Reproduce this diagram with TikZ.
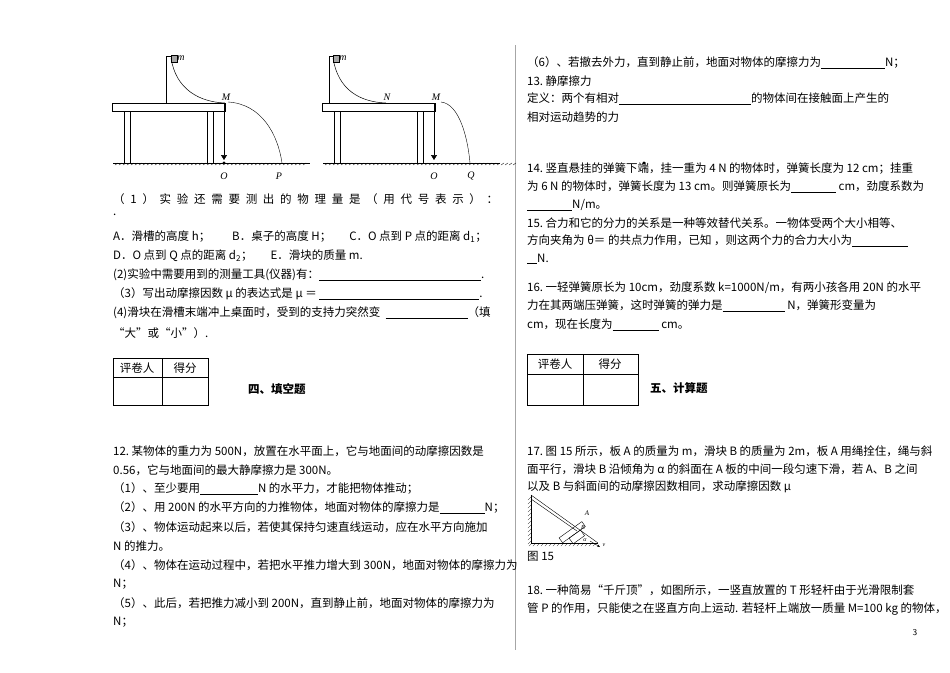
\documentclass[tikz,border=0pt]{standalone}
\usepackage{fontspec}
\setmainfont{Liberation Serif}
\newfontfamily\cjk{Noto Sans CJK SC}
\usetikzlibrary{patterns,arrows.meta}
\begin{document}
\begin{tikzpicture}[x=1pt,y=-1pt,
  tx/.style={anchor=west,inner sep=0pt,font=\cjk\fontsize{11.5}{12}\selectfont},
  bl/.style={draw,line width=0.5pt},
  gr/.style={line width=0.4pt},
  lab/.style={font=\itshape\fontsize{10}{10}\selectfont,inner sep=0pt}]
\useasboundingbox (0,0) rectangle (950,672);
\fill[white] (0,0) rectangle (950,672);
\draw[gray!70,line width=0.6pt] (515,45) -- (515,650);
% ---------- figure 1 ----------
\foreach \dx/\ox/\en/\el in {0/224/282/P,210/434/470/Q}{
 \begin{scope}[xshift=\dx]
  \draw[bl] (112,103) rectangle (225,111);
  \draw[gr] (124,111) -- (124,163) (130,111) -- (130,163) (207,111) -- (207,163) (213,111) -- (213,163);
  \draw[gr] (113,163) -- ({\ifnum\dx=0 310\else 290\fi},163);
  \foreach \h in {115,119,...,306}{\draw[line width=0.3pt] (\h,165) -- (\h+3,163);}
  \draw[line width=0.5pt,-{Triangle[width=6pt,length=5pt]}] (224,104) -- (224,160);
  \fill (\ox,163) circle (1.6pt);
 \end{scope}}
\draw[bl] (166,103) -- (166,56) -- (171,56);
\draw[bl] (171,58) .. controls (176,90) and (200,102) .. (225,103);
\fill[gray!70] (171,55) rectangle (177,62); \draw[line width=0.4pt] (171,55) rectangle (177,62);
\node[lab] (m1) at (181,58) {m};
\node[lab] (M1) at (226,97) {M};
\draw[gr] (228,102) .. controls (262,104) and (278,135) .. (282,163);
\node[lab] (O1) at (224,176) {O};
\node[lab] (P1) at (279,176) {P};
% figure 2
\draw[bl] (329,103) -- (329,56) -- (333,56);
\draw[bl] (333,58) .. controls (338,90) and (360,102) .. (386,103);
\fill[gray!70] (333,55) rectangle (339,62); \draw[line width=0.4pt] (333,55) rectangle (339,62);
\node[lab] (m2) at (343,58) {m};
\node[lab] (N2) at (387,97) {N};
\node[lab] (M2) at (436,97) {M};
\draw[gr] (441,102) .. controls (460,104) and (468,140) .. (470,163);
\node[lab] (O2) at (434,176) {O};
\node[lab] (Q2) at (471,176) {Q};
% ---------- left text ----------
\node[tx] (l1) at (113,199) {\makebox[385pt][s]{（ \hfill 1 \hfill ） \hfill 实 \hfill 验 \hfill 还 \hfill 需 \hfill 要 \hfill 测 \hfill 出 \hfill 的 \hfill 物 \hfill 理 \hfill 量 \hfill 是 \hfill （ \hfill 用 \hfill 代 \hfill 号 \hfill 表 \hfill 示 \hfill ） \hfill ：}};
\node[tx] (l2) at (113,215) {.};
\node[tx] (l3) at (113,237) {A．滑槽的高度 h；\hspace{22pt}B．桌子的高度 H；\hspace{18pt}C．O 点到 P 点的距离 d\textsubscript{1}；};
\node[tx] (l4) at (113,256) {D．O 点到 Q 点的距离 d\textsubscript{2}；\hspace{18pt}E．滑块的质量 m.};
\node[tx] (l5) at (113,275) {(2)实验中需要用到的测量工具(仪器)有：\underline{\hspace{162pt}}.};
\node[tx] (l6) at (113,294) {（3）写出动摩擦因数 μ 的表达式是 μ ＝ \underline{\hspace{160pt}}.};
\node[tx] (l7) at (113,313) {(4)滑块在滑槽末端冲上桌面时，受到的支持力突然变 \ \underline{\hspace{82pt}}（填};
\node[tx] (l8) at (113,333) {“大”或“小”）.};
% table 1
\draw[line width=1pt] (113,358) rectangle (208,405);
\draw[line width=0.8pt] (113,377) -- (208,377) (162,358) -- (162,405);
\node[tx,anchor=center] (t1a) at (137,368) {评卷人};
\node[tx,anchor=center] (t1b) at (185,368) {得分};
\node[tx,font=\cjk\bfseries\fontsize{11.5}{12}\selectfont] (t1c) at (248,389) {四、填空题};
\node[tx] (q12) at (113,451) {12.\ 某物体的重力为 500N，放置在水平面上，它与地面间的动摩擦因数是};
\node[tx] (q12b) at (113,470) {0.56，它与地面间的最大静摩擦力是 300N。};
\node[tx] (q12c) at (113,489) {（1）、至少要用\underline{\hspace{58pt}}N 的水平力，才能把物体推动；};
\node[tx] (q12d) at (113,508) {（2）、用 200N 的水平方向的力推物体，地面对物体的摩擦力是\underline{\hspace{45pt}}N；};
\node[tx] (q12e) at (113,527) {（3）、物体运动起来以后，若使其保持匀速直线运动，应在水平方向施加};
\node[tx] (q12f) at (113,546) {N 的推力。};
\node[tx] (q12g) at (113,565) {（4）、物体在运动过程中，若把水平推力增大到 300N，地面对物体的摩擦力为};
\node[tx] (q12h) at (113,584) {N；};
\node[tx] (q12i) at (113,603) {（5）、此后，若把推力减小到 200N，直到静止前，地面对物体的摩擦力为};
\node[tx] (q12j) at (113,622) {N；};
% ---------- right text ----------
\node[tx] (r1) at (527,63) {（6）、若撤去外力，直到静止前，地面对物体的摩擦力为\underline{\hspace{64pt}}N；};
\node[tx] (r2) at (527,81) {13.\ 静摩擦力};
\node[tx] (r3) at (527,99) {定义：两个有相对\underline{\hspace{132pt}}的物体间在接触面上产生的};
\node[tx] (r4) at (527,117) {相对运动趋势的力};
\node[tx] (r5) at (527,169) {14.\ 竖直悬挂的弹簧下端，挂一重为 4 N 的物体时，弹簧长度为 12 cm；挂重};
\node[tx] (r6) at (527,187) {为 6 N 的物体时，弹簧长度为 13 cm。则弹簧原长为\underline{\hspace{45pt}} cm，劲度系数为};
\node[tx] (r7) at (527,205) {\underline{\hspace{45pt}}N/m。};
\node[tx] (r8) at (527,223) {15.\ 合力和它的分力的关系是一种等效替代关系。一物体受两个大小相等、};
\node[tx] (r9) at (527,241) {方向夹角为 θ＝ 的共点力作用，已知 ，则这两个力的合力大小为\underline{\hspace{56pt}}};
\node[tx] (r10) at (527,259) {\underline{\hspace{10pt}}N.};
\node[tx] (r11) at (527,288) {16.\ 一轻弹簧原长为 10cm，劲度系数 k=1000N/m，有两小孩各用 20N 的水平};
\node[tx] (r12) at (527,306) {力在其两端压弹簧，这时弹簧的弹力是\underline{\hspace{62pt}} N，弹簧形变量为};
\node[tx] (r13) at (527,325) {cm，现在长度为\underline{\hspace{46pt}} cm。};
% table 2
\draw[line width=1pt] (527,354) rectangle (638,405);
\draw[line width=0.8pt] (527,374) -- (638,374) (583,354) -- (583,405);
\node[tx,anchor=center] (t2a) at (555,364) {评卷人};
\node[tx,anchor=center] (t2b) at (610,364) {得分};
\node[tx,font=\cjk\bfseries\fontsize{11.5}{12}\selectfont] (t2c) at (650,388) {五、计算题};
\node[tx] (r14) at (527,451) {17.\ 图 15 所示，板 A 的质量为 m，滑块 B 的质量为 2m，板 A 用绳拴住，绳与斜};
\node[tx] (r15) at (527,469) {面平行，滑块 B 沿倾角为 α 的斜面在 A 板的中间一段匀速下滑，若 A、B 之间};
\node[tx] (r16) at (527,487) {以及 B 与斜面间的动摩擦因数相同，求动摩擦因数 μ};
% figure 15
\draw[gr] (531,495) -- (531,543) -- (598,543);
\foreach \h in {533,537,...,529}{}
\foreach \v in {497,501,...,541}{\draw[line width=0.3pt] (531,\v) -- (528,\v+3);}
\foreach \h in {532,536,...,596}{\draw[line width=0.3pt] (\h,543) -- (\h-3,546);}
\draw[gr] (531,495) -- (598,543);
\draw[gr] (531,499) -- (577,531);
\begin{scope}[shift={(590,533)},rotate=35.6]
 \draw[gr] (-28,-14) rectangle (0,-8);
 \draw[gr] (-20,-8) rectangle (-6,-1);
\end{scope}
\draw[gr,-{Stealth[length=3pt]}] (590,541) -- (600,547);
\node[lab,font=\itshape\fontsize{7}{7}\selectfont] (Aa) at (587,513) {A};
\node[lab,font=\itshape\fontsize{6}{6}\selectfont] (Bb) at (583,528) {B};
\node[lab,font=\itshape\fontsize{6}{6}\selectfont] (al) at (585,540) {α};
\node[lab,font=\itshape\fontsize{6}{6}\selectfont] (vv) at (604,545) {v};
\node[tx] (f15) at (527,556) {图 15};
\node[tx] (r17) at (527,590) {18.\ 一种简易“千斤顶”，如图所示，一竖直放置的 T 形轻杆由于光滑限制套};
\node[tx] (r18) at (527,609) {管 P 的作用，只能使之在竖直方向上运动. 若轻杆上端放一质量 M=100 kg 的物体，};
\node[inner sep=0pt,font=\sffamily\fontsize{9}{9}\selectfont] (pg) at (915,633) {3};
\end{tikzpicture}
\end{document}
